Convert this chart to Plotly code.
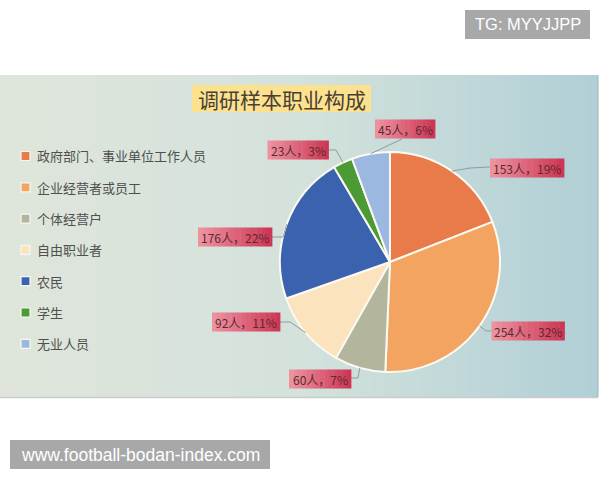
import math
import plotly.graph_objects as go

# ---- data ----
categories = ["政府部门、事业单位工作人员", "企业经营者或员工", "个体经营户", "自由职业者", "农民", "学生", "无业人员"]
counts = [153, 254, 60, 92, 176, 23, 45]
colors = ["#E97A4A", "#F3A460", "#B3B59D", "#FBE3BD", "#3B62AE", "#4C9A33", "#9BB8E0"]
title_text = "调研样本职业构成"

W, H = 600, 480
FONT = "Noto Sans CJK SC"


def X(px):
    return px / W


def Y(py):
    return 1 - py / H


def lerp(c1, c2, t):
    return tuple(round(a + (b - a) * t) for a, b in zip(c1, c2))


def rgb(c):
    return "rgb(%d,%d,%d)" % c


total = sum(counts)
labels_txt = [f"{v}人，{round(v / total * 100)}%" for v in counts]

# pie geometry (pixels)
CX, CY, R = 390, 262, 110

shapes = []
annotations = []

# background gradient
stops = [(0, (223, 229, 219)), (300, (212, 226, 220)), (600, (176, 207, 214))]
n = 100
for i in range(n):
    x0 = i * W / n
    x1 = (i + 1) * W / n + 0.6
    xm = (x0 + x1) / 2
    if xm <= 300:
        c = lerp(stops[0][1], stops[1][1], xm / 300)
    else:
        c = lerp(stops[1][1], stops[2][1], (xm - 300) / 300)
    shapes.append(dict(type="rect", xref="paper", yref="paper", layer="below",
                       x0=X(x0), x1=X(min(x1, 598)), y0=Y(397), y1=Y(75),
                       fillcolor=rgb(c), line=dict(width=0)))
# bottom border + right border
shapes.append(dict(type="line", xref="paper", yref="paper", layer="below",
                   x0=0, x1=X(598), y0=Y(397.5), y1=Y(397.5),
                   line=dict(color="#c9cccc", width=1.5)))
shapes.append(dict(type="line", xref="paper", yref="paper", layer="below",
                   x0=X(598), x1=X(598), y0=Y(397), y1=Y(75),
                   line=dict(color="#9fb4b8", width=1)))

# title box
shapes.append(dict(type="rect", xref="paper", yref="paper", layer="below",
                   x0=X(192), x1=X(371), y0=Y(112), y1=Y(85),
                   fillcolor="#FCE28E", line=dict(width=0)))
annotations.append(dict(xref="paper", yref="paper", x=X(281.5), y=Y(99),
                        text=title_text, showarrow=False, xanchor="center", yanchor="middle",
                        font=dict(family=FONT, size=21, color="#4a3f36")))

# legend (manual)
leg_y0, leg_dy = 156, 31.3
for i, (cat, col) in enumerate(zip(categories, colors)):
    yy = leg_y0 + i * leg_dy
    shapes.append(dict(type="rect", xref="paper", yref="paper",
                       x0=X(21), x1=X(30), y0=Y(yy + 4.5), y1=Y(yy - 4.5),
                       fillcolor=col, line=dict(color="#f7f7f2", width=1.2)))
    annotations.append(dict(xref="paper", yref="paper", x=X(35), y=Y(yy),
                            text=cat, showarrow=False, xanchor="left", yanchor="middle",
                            font=dict(family=FONT, size=13, color="#4f4f4f")))

# data label boxes: (center x, center y, width) and leader elbow / end points in px
label_boxes = [(527, 168, 74), (528, 331, 73), (320, 379, 62), (246, 322, 68),
               (235, 237, 74), (298, 150, 61), (405, 129, 60)]
label_paths = [
    [(470, 168), (490, 167)],
    [(486, 331), (492, 331)],
    [(358, 378), (351, 378)],
    [(290, 322), (280, 322)],
    [(283, 237), (272, 237)],
    [(336, 150), (329, 150)],
    [(402, 139)],
]
BOX_H = 19
c_left, c_right = (238, 148, 162), (204, 52, 82)

cum = 0
for v, (bx, by, bw), pth, txt in zip(counts, label_boxes, label_paths, labels_txt):
    mid = (cum + v / 2) / total * 2 * math.pi
    cum += v
    sx = CX + R * math.sin(mid)
    sy = CY - R * math.cos(mid)
    pts = [(sx, sy)] + pth
    d = "M %.5f,%.5f " % (X(pts[0][0]), Y(pts[0][1])) + " ".join(
        "L %.5f,%.5f" % (X(px), Y(py)) for px, py in pts[1:])
    shapes.append(dict(type="path", xref="paper", yref="paper", path=d,
                       line=dict(color="#8f9c9c", width=1)))
    # gradient box
    ns = 14
    x0b = bx - bw / 2
    for k in range(ns):
        c = lerp(c_left, c_right, (k + 0.5) / ns)
        shapes.append(dict(type="rect", xref="paper", yref="paper",
                           x0=X(x0b + k * bw / ns), x1=X(x0b + (k + 1) * bw / ns + 0.4),
                           y0=Y(by + BOX_H / 2), y1=Y(by - BOX_H / 2),
                           fillcolor=rgb(c), line=dict(width=0)))
    annotations.append(dict(xref="paper", yref="paper", x=X(bx), y=Y(by),
                            text=txt, showarrow=False, xanchor="center", yanchor="middle",
                            font=dict(family=FONT, size=12, color="#5a2a2e")))

# watermark boxes
shapes.append(dict(type="rect", xref="paper", yref="paper",
                   x0=X(465), x1=X(590), y0=Y(39), y1=Y(10),
                   fillcolor="#a8a8a8", line=dict(width=0)))
annotations.append(dict(xref="paper", yref="paper", x=X(527.5), y=Y(24.5),
                        text="TG: MYYJJPP", showarrow=False, xanchor="center", yanchor="middle",
                        font=dict(family="Liberation Sans", size=16.5, color="#ffffff")))
shapes.append(dict(type="rect", xref="paper", yref="paper",
                   x0=X(10), x1=X(270), y0=Y(469), y1=Y(440),
                   fillcolor="#a8a8a8", line=dict(width=0)))
annotations.append(dict(xref="paper", yref="paper", x=X(140), y=Y(454.5),
                        text="www.football-bodan-index.com", showarrow=False,
                        xanchor="center", yanchor="middle",
                        font=dict(family="Liberation Sans", size=17.5, color="#ffffff")))

fig = go.Figure(go.Pie(
    labels=categories, values=counts, sort=False, direction="clockwise", rotation=0,
    marker=dict(colors=colors, line=dict(color="#fcf9f2", width=2)),
    textinfo="none", showlegend=False,
    domain=dict(x=[X(CX - R), X(CX + R)], y=[Y(CY + R), Y(CY - R)]),
))

fig.update_layout(
    width=W, height=H, autosize=False,
    margin=dict(l=0, r=0, t=0, b=0),
    paper_bgcolor="#ffffff", plot_bgcolor="#ffffff",
    shapes=shapes, annotations=annotations, showlegend=False,
    font=dict(family=FONT),
)

fig.write_html("out.html", config={"displayModeBar": False},
               post_script="document.body.style.margin='0';document.body.style.overflow='hidden';")
